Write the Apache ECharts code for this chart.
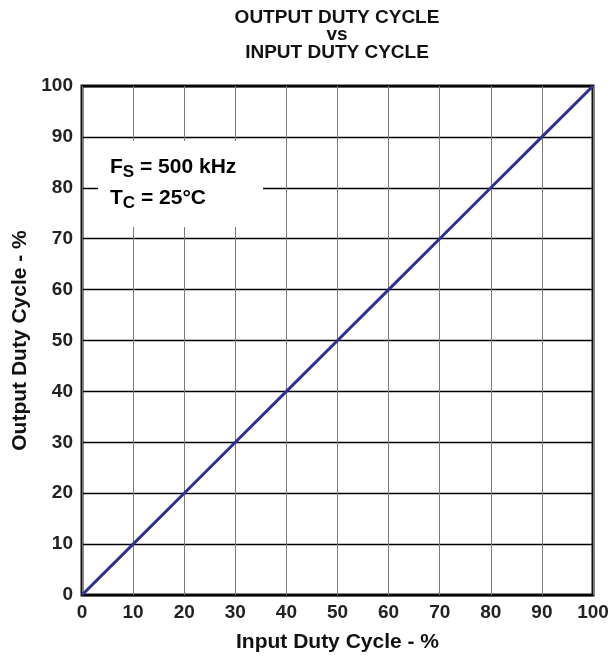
<!DOCTYPE html>
<html><head><meta charset="utf-8">
<script src="https://cdn.jsdelivr.net/npm/echarts@6/dist/echarts.min.js"></script>
<style>html,body{margin:0;padding:0;background:#fff}#c{width:613px;height:658px}</style>
</head><body><div id="c"></div>
<script>
const titleLines = ['OUTPUT DUTY CYCLE', 'vs', 'INPUT DUTY CYCLE'];
const xName = 'Input Duty Cycle - %';
const yName = 'Output Duty Cycle - %';
const inputDuty = [0, 10, 20, 30, 40, 50, 60, 70, 80, 90, 100];
const outputDuty = [0, 10, 20, 30, 40, 50, 60, 70, 80, 90, 100];
const FONT = 'Liberation Sans, Arial, sans-serif';

const chart = echarts.init(document.getElementById('c'), null, {renderer: 'canvas'});
chart.setOption({
  animation: false,
  backgroundColor: '#fff',
  title: {
    text: titleLines.join('\n'), left: 332, top: 4, textAlign: 'center',
    textStyle: {fontFamily: FONT, fontWeight: 'bold', fontSize: 19, lineHeight: 17.5, color: '#111'}
  },
  grid: {left: 82, right: 20, top: 86, bottom: 63, show: true, borderColor: '#111', borderWidth: 3,
         backgroundColor: 'transparent', containLabel: false, outerBoundsMode: 'none'},
  xAxis: {
    type: 'value', min: 0, max: 100, interval: 10,
    name: xName, nameLocation: 'middle', nameGap: 37,
    nameTextStyle: {fontFamily: FONT, fontWeight: 'bold', fontSize: 21, color: '#111'},
    axisLine: {show: false}, axisTick: {show: false},
    axisLabel: {fontFamily: FONT, fontWeight: 'bold', fontSize: 19, color: '#222', margin: 8},
    splitLine: {show: true, lineStyle: {color: '#7a7a7a', width: 1}}
  },
  yAxis: {
    type: 'value', min: 0, max: 100, interval: 10,
    name: yName, nameLocation: 'middle', nameGap: 50,
    nameTextStyle: {fontFamily: FONT, fontWeight: 'bold', fontSize: 21, color: '#111'},
    axisLine: {show: false}, axisTick: {show: false},
    axisLabel: {fontFamily: FONT, fontWeight: 'bold', fontSize: 19, color: '#222', margin: 9},
    splitLine: {show: true, lineStyle: {color: '#000', width: 1.4}}
  },
  series: [{
    type: 'line', data: inputDuty.map((x, i) => [x, outputDuty[i]]),
    showSymbol: false, lineStyle: {color: '#2e3192', width: 3}, z: 5
  }],
  graphic: [
    {type: 'rect', z: 100, shape: {x: 98, y: 141, width: 165, height: 86}, style: {fill: '#fff'}},
    {type: 'text', z: 101, left: 110, top: 155, style: {
      text: '{b|F}{s|S}{b| = 500 kHz}',
      rich: {
        b: {fontFamily: FONT, fontWeight: 'bold', fontSize: 21, color: '#222', lineHeight: 22, verticalAlign: 'top'},
        s: {fontFamily: FONT, fontWeight: 'bold', fontSize: 17, color: '#222', lineHeight: 22, padding: [9,0,0,0]}
      }
    }},
    {type: 'text', z: 101, left: 110, top: 186, style: {
      text: '{b|T}{s|C}{b| = 25°C}',
      rich: {
        b: {fontFamily: FONT, fontWeight: 'bold', fontSize: 21, color: '#222', lineHeight: 22, verticalAlign: 'top'},
        s: {fontFamily: FONT, fontWeight: 'bold', fontSize: 17, color: '#222', lineHeight: 22, padding: [9,0,0,0]}
      }
    }}
  ]
});
</script></body></html>
